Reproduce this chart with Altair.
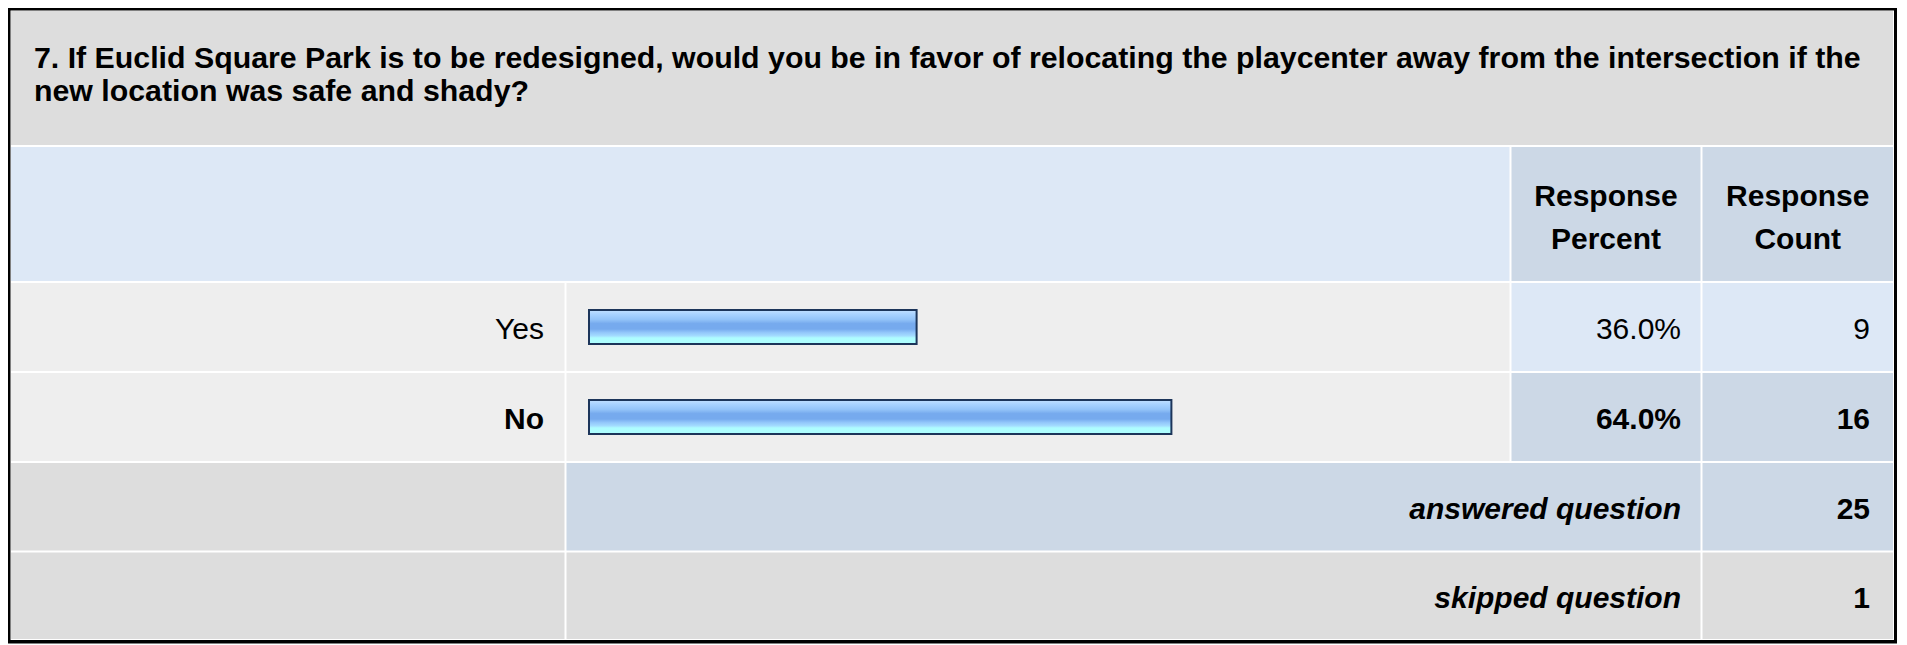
import altair as alt
import pandas as pd

# ---------------- data ----------------
question_lines = [
    "7. If Euclid Square Park is to be redesigned, would you be in favor of relocating the playcenter away from the intersection if the",
    "new location was safe and shady?",
]
header_labels = ["Response\nPercent", "Response\nCount"]
answers = ["Yes", "No"]
percents = [36.0, 64.0]
counts = [9, 16]
summary_labels = ["answered question", "skipped question"]
summary_values = [25, 1]

# ---------------- layout (page pixels) ----------------
W, H = 1890, 636
OX, OY = 8, 8
COLS = {"c0": (11, 564.5), "c1": (566.5, 1509.5), "c2": (1511.5, 1700.5), "c3": (1702.5, 1893)}
ROWS = {"title": (11, 145), "header": (147, 281), "Yes": (283, 371), "No": (373, 461),
        "answered": (463, 550.5), "skipped": (552.5, 639)}
FONT = "Liberation Sans"
FS = 30
GRAY, LIGHT, BLUE1, BLUE2 = "#DDDDDD", "#EEEEEE", "#DDE8F6", "#CCD8E6"

xs = alt.Scale(domain=[OX, OX + W], range=[0, W], nice=False, zero=False)
ys = alt.Scale(domain=[OY, OY + H], range=[0, H], nice=False, zero=False)

# frame + cells
cell_rows = []
def cell(row, c_from, c_to, fill):
    cell_rows.append(dict(x0=COLS[c_from][0], x1=COLS[c_to][1], y0=ROWS[row][0], y1=ROWS[row][1], fill=fill))

frame = pd.DataFrame([
    dict(x0=8, x1=1897, y0=8, y1=643.5, fill="#000000"),
    dict(x0=10.5, x1=1894, y0=10.5, y1=640, fill="#FFFFFF"),
])
cell("title", "c0", "c3", GRAY)
cell("header", "c0", "c1", BLUE1)
cell("header", "c2", "c2", BLUE2)
cell("header", "c3", "c3", BLUE2)
best = max(percents)
for a, p in zip(answers, percents):
    shade = BLUE2 if p == best else BLUE1
    cell(a, "c0", "c0", LIGHT)
    cell(a, "c1", "c1", LIGHT)
    cell(a, "c2", "c2", shade)
    cell(a, "c3", "c3", shade)
cell("answered", "c0", "c0", GRAY)
cell("answered", "c1", "c2", BLUE2)
cell("answered", "c3", "c3", BLUE2)
cell("skipped", "c0", "c0", GRAY)
cell("skipped", "c1", "c2", GRAY)
cell("skipped", "c3", "c3", GRAY)
cells = pd.concat([frame, pd.DataFrame(cell_rows)], ignore_index=True)

def rects(df):
    return alt.Chart(df).mark_rect().encode(
        x=alt.X("x0:Q", scale=xs, axis=None), x2="x1:Q",
        y=alt.Y("y0:Q", scale=ys, axis=None), y2="y1:Q",
        color=alt.Color("fill:N", scale=None),
    )

def texts(df, align, weight="normal", style="normal", line_height=None, size=FS):
    kw = dict(align=align, baseline="alphabetic", font=FONT, fontSize=size,
              fontWeight=weight, fontStyle=style, color="#000000", lineBreak="\n")
    if line_height:
        kw["lineHeight"] = line_height
    return alt.Chart(df).mark_text(**kw).encode(
        x=alt.X("x:Q", scale=xs, axis=None),
        y=alt.Y("y:Q", scale=ys, axis=None),
        text="t:N",
    )

# baseline inside rows
def base(row):
    y0, y1 = ROWS[row]
    return (y0 + y1) / 2 + 12

LABEL_X = 544
PCT_X = 1681
CNT_X = 1870

title_df = pd.DataFrame([dict(x=34, y=68, t="\n".join(question_lines))])
header_df = pd.DataFrame([
    dict(x=(COLS["c2"][0] + COLS["c2"][1]) / 2, y=206, t=header_labels[0]),
    dict(x=(COLS["c3"][0] + COLS["c3"][1]) / 2, y=206, t=header_labels[1]),
])

reg_rows, bold_rows = [], []
for a, p, c in zip(answers, percents, counts):
    target = bold_rows if p == best else reg_rows
    target.append(dict(x=LABEL_X, y=base(a), t=a))
    target.append(dict(x=PCT_X, y=base(a), t=f"{p:.1f}%"))
    target.append(dict(x=CNT_X, y=base(a), t=str(c)))
keys = ["answered", "skipped"]
ital_rows = [dict(x=PCT_X, y=base(k), t=l) for k, l in zip(keys, summary_labels)]
for k, v in zip(keys, summary_values):
    bold_rows.append(dict(x=CNT_X, y=base(k), t=str(v)))

# bars
bar_df = pd.DataFrame({
    "answer": answers,
    "start": [0.0] * len(answers),
    "pct": percents,
    "top": [(ROWS[a][0] + ROWS[a][1]) / 2 - 17 for a in answers],
    "bot": [(ROWS[a][0] + ROWS[a][1]) / 2 + 17 for a in answers],
})
bx = alt.Scale(domain=[0, 100], range=[589 - OX, 1499 - OX], nice=False, zero=False)
grad = alt.Gradient(
    gradient="linear", x1=0, x2=0, y1=0, y2=1,
    stops=[
        alt.GradientStop(offset=0.0, color="#C2E0FF"),
        alt.GradientStop(offset=0.13, color="#A8D2FF"),
        alt.GradientStop(offset=0.28, color="#93C3F8"),
        alt.GradientStop(offset=0.40, color="#76AAEE"),
        alt.GradientStop(offset=0.56, color="#76AAEE"),
        alt.GradientStop(offset=0.66, color="#92C6FA"),
        alt.GradientStop(offset=0.76, color="#A4DCFF"),
        alt.GradientStop(offset=0.82, color="#AEFCFF"),
        alt.GradientStop(offset=1.0, color="#AEFFFF"),
    ],
)
bar_enc = dict(
    x=alt.X("start:Q", scale=bx, axis=None), x2="pct:Q",
    y=alt.Y("top:Q", scale=ys, axis=None), y2="bot:Q",
)
shadow = alt.Chart(bar_df).mark_rect(color="#A3B1C6", xOffset=2, yOffset=2).encode(**bar_enc)
bars = alt.Chart(bar_df).mark_rect(fill=grad, stroke="#1C355A", strokeWidth=2).encode(**bar_enc)

chart = alt.layer(
    rects(cells),
    texts(title_df, "left", "bold", line_height=33, size=30.3),
    texts(header_df, "center", "bold", line_height=43),
    texts(pd.DataFrame(reg_rows), "right"),
    texts(pd.DataFrame(bold_rows), "right", "bold"),
    texts(pd.DataFrame(ital_rows), "right", "bold", "italic"),
    shadow,
    bars,
).resolve_scale(x="independent").properties(
    width=W, height=H, padding=0, autosize="none", background="#FFFFFF"
).configure_view(stroke=None)

chart.save("out.html", embed_options={"renderer": "svg", "actions": False})
